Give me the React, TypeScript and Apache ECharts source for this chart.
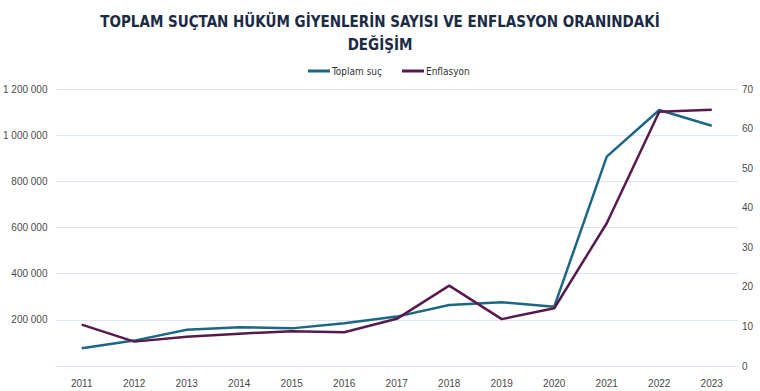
import React, { useEffect, useRef } from "react";
import * as echarts from "echarts";

const years = ["2011","2012","2013","2014","2015","2016","2017","2018","2019","2020","2021","2022","2023"];
const toplamSuc = [77000, 110000, 157000, 168000, 163000, 185000, 214000, 264000, 276000, 257000, 907000, 1109000, 1041000];
const enflasyon = [10.45, 6.16, 7.4, 8.17, 8.81, 8.53, 11.92, 20.3, 11.84, 14.6, 36.08, 64.27, 64.77];

const fmt = (v: number) => (v === 0 ? "" : String(v).replace(/\B(?=(\d{3})+(?!\d))/g, " "));
const COND = "'DejaVu Sans Condensed', 'Liberation Sans Narrow', 'Roboto Condensed', Roboto, sans-serif";

export default function App() {
  const ref = useRef<HTMLDivElement>(null);
  useEffect(() => {
    const chart = echarts.init(ref.current!, null, { renderer: "svg" });
    chart.setOption({
      animation: false,
      backgroundColor: "#ffffff",
      title: {
        text: "TOPLAM SUÇTAN HÜKÜM GİYENLERİN SAYISI VE ENFLASYON ORANINDAKİ\nDEĞİŞİM",
        left: "center",
        top: 5,
        textStyle: {
          fontFamily: COND,
          fontWeight: "bold",
          fontSize: 15,
          lineHeight: 23,
          color: "#1c2b45",
        },
      },
      legend: {
        top: 61,
        left: 303,
        itemWidth: 22,
        itemHeight: 3,
        itemGap: 20,
        icon: "rect",
        textStyle: { fontFamily: COND, fontSize: 10, color: "#333", padding: [0, 0, 0, -3] },
        data: ["Toplam suç", "Enflasyon"],
      },
      grid: { left: 54, right: 22, top: 89, bottom: 25, containLabel: false },
      xAxis: {
        type: "category",
        data: years,
        boundaryGap: true,
        axisLine: { show: true, lineStyle: { color: "#dbe6f2" } },
        axisTick: { show: false },
        axisLabel: { color: "#4a4a4a", fontFamily: "Liberation Sans", fontSize: 10, margin: 12 },
      },
      yAxis: [
        {
          type: "value",
          min: 0,
          max: 1200000,
          interval: 200000,
          axisLine: { show: false },
          axisTick: { show: false },
          splitLine: { lineStyle: { color: "#dbe6f2" } },
          axisLabel: { color: "#4a4a4a", fontFamily: "Liberation Sans", fontSize: 10, formatter: fmt, margin: 8 },
        },
        {
          type: "value",
          min: 0,
          max: 70,
          interval: 10,
          position: "right",
          axisLine: { show: false },
          axisTick: { show: false },
          splitLine: { show: false },
          axisLabel: { color: "#4a4a4a", fontFamily: "Liberation Sans", fontSize: 10, margin: 4 },
        },
      ],
      series: [
        {
          name: "Toplam suç",
          type: "line",
          data: toplamSuc,
          yAxisIndex: 0,
          symbol: "none",
          lineStyle: { width: 2.5, color: "#1c6784" },
          itemStyle: { color: "#1c6784" },
        },
        {
          name: "Enflasyon",
          type: "line",
          data: enflasyon,
          yAxisIndex: 1,
          symbol: "none",
          lineStyle: { width: 2.5, color: "#571a4c" },
          itemStyle: { color: "#571a4c" },
        },
      ],
    });
    return () => chart.dispose();
  }, []);
  return <div ref={ref} style={{ width: 760, height: 391, position: "absolute", left: 0, top: 0 }} />;
}
